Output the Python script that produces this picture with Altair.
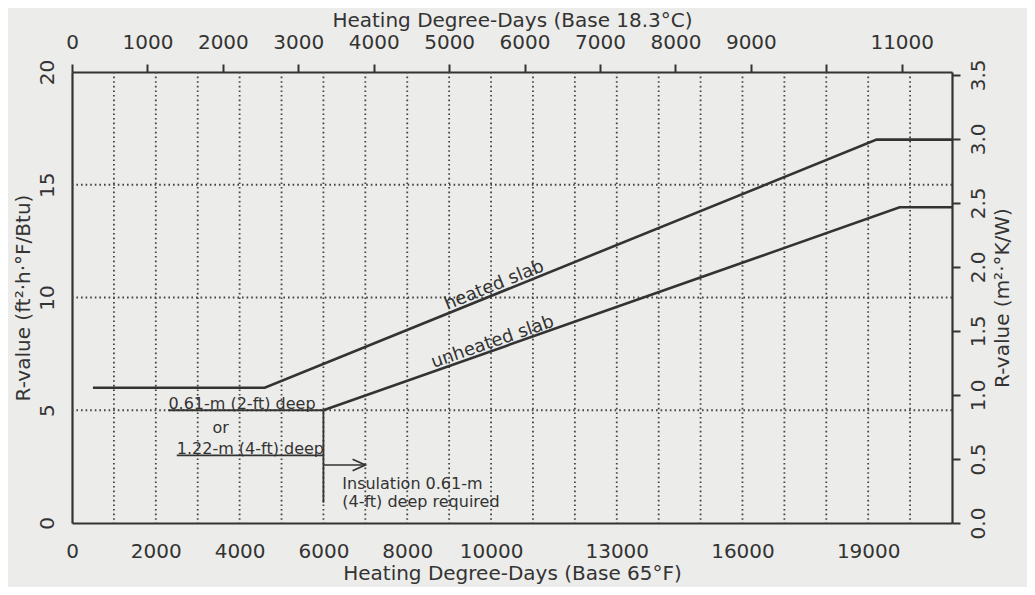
import altair as alt
import pandas as pd

# ---- data ----
heated_x = [500, 4600, 19200, 21000]
heated_r = [6, 6, 17, 17]
unheated_x = [6000, 19750, 21000]
unheated_r = [5, 14, 14]
deep2_x = [2300, 6000]
deep2_r = [5, 5]
deep4_x = [2500, 6000]
deep4_r = [3, 3]
req_x = [6000, 6000]
req_r = [5, 0.9]
arrow_x = [6000, 7000]
arrow_r = [2.57, 2.57]

grid_x = list(range(1000, 21000, 1000))
grid_r = [5, 10, 15]

bottom_ticks = [0, 2000, 4000, 6000, 8000, 10000, 13000, 16000, 19000]
top_ticks = list(range(0, 12000, 1000))
left_ticks = [0, 5, 10, 15, 20]
right_ticks = [0.0, 0.5, 1.0, 1.5, 2.0, 2.5, 3.0, 3.5]

note_text = ["0.61-m (2-ft) deep", "1.22-m (4-ft) deep", "Insulation 0.61-m", "(4-ft) deep required"]
note_x = [2300, 2500, 6450, 6450]
note_r = [5.0, 3.0, 1.46, 0.67]
or_text = ["or"]
or_x = [3550]
or_r = [4.0]
slant_text = ["heated slab", "unheated slab"]
slant_x = [10150, 10100]
slant_r = [10.2, 7.68]
slant_angle = [338, 341]

XMAX = 21000
YMAX = 20
F_PER_C = 1.8
SI_FACTOR = 5.678

FONT = "DejaVu Sans"
INK = "#333333"

# ---- tables ----
rows = []
for name, xs, rs, w in [
    ("heated", heated_x, heated_r, 2.6),
    ("unheated", unheated_x, unheated_r, 2.6),
    ("deep2", deep2_x, deep2_r, 1.8),
    ("deep4", deep4_x, deep4_r, 1.8),
    ("req", req_x, req_r, 1.8),
    ("arrow", arrow_x, arrow_r, 1.6),
]:
    for i, (a, b) in enumerate(zip(xs, rs)):
        rows.append({"seg": name, "x": a, "r": b, "w": w, "i": i})
lines_df = pd.DataFrame(rows)
gx_df = pd.DataFrame({"x": grid_x})
gy_df = pd.DataFrame({"r": grid_r})
notes_df = pd.DataFrame({"x": note_x, "r": note_r, "t": note_text})
or_df = pd.DataFrame({"x": or_x, "r": or_r, "t": or_text})
slant_df = pd.DataFrame({"x": slant_x, "r": slant_r, "t": slant_text, "a": slant_angle})
head_df = pd.DataFrame({"x": [arrow_x[-1]], "r": [arrow_r[-1]]})
right_df = pd.DataFrame({"si": right_ticks})
top_df = pd.DataFrame({"c": top_ticks})

xscale = alt.Scale(domain=[0, XMAX], nice=False, zero=False)
yscale = alt.Scale(domain=[0, YMAX], nice=False, zero=False)

xaxis = alt.Axis(
    values=bottom_ticks, format="d", ticks=False, tickSize=0, grid=False,
    labelPadding=18, labelFontSize=20, labelFont=FONT, labelColor=INK,
    title="Heating Degree-Days (Base 65°F)", titleFontSize=20, titleFont=FONT,
    titleFontWeight="normal", titleColor=INK, titlePadding=2,
    domainColor=INK, domainWidth=2.2, labelFlush=False,
)
yaxis = alt.Axis(
    values=left_ticks, format="d", ticks=False, tickSize=0, grid=False,
    labelAngle=270, labelAlign="center", labelBaseline="bottom", labelPadding=15,
    labelFontSize=20, labelFont=FONT, labelColor=INK,
    title="R-value  (ft²·h·°F/Btu)", titleFontSize=20, titleFont=FONT,
    titleFontWeight="normal", titleColor=INK, titlePadding=4,
    domainColor=INK, domainWidth=2.2, labelFlush=False,
)

X = alt.X("x:Q", scale=xscale, axis=xaxis)
Y = alt.Y("r:Q", scale=yscale, axis=yaxis)

gridv = alt.Chart(gx_df).mark_rule(color="#444444", strokeWidth=1.8, strokeDash=[1.6, 3.0]).encode(x=X)
gridh = alt.Chart(gy_df).mark_rule(color="#444444", strokeWidth=1.8, strokeDash=[1.6, 3.0]).encode(y=Y)

lines = alt.Chart(lines_df).mark_line(color=INK, strokeCap="butt").encode(
    x=X, y=Y, detail="seg:N", order="i:Q",
    strokeWidth=alt.StrokeWidth("w:Q", scale=None, legend=None),
)

head = alt.Chart(head_df).mark_point(
    shape="M -1 -0.45 L 0 0 L -1 0.45", filled=False, size=650,
    strokeWidth=1.7, color=INK, opacity=1,
).encode(x=X, y=Y)

notes = alt.Chart(notes_df).mark_text(
    align="left", baseline="alphabetic", dy=-1, font=FONT, fontSize=16, color=INK
).encode(x=X, y=Y, text="t:N")

ortext = alt.Chart(or_df).mark_text(
    align="center", baseline="alphabetic", font=FONT, fontSize=16, color=INK
).encode(x=X, y=Y, text="t:N")

slant = alt.Chart(slant_df).mark_text(
    align="center", baseline="alphabetic", dy=-3, font=FONT, fontSize=18, color=INK
).encode(x=X, y=Y, text="t:N", angle=alt.Angle("a:Q", scale=None))

main = alt.layer(gridv, gridh, lines, head, notes, ortext, slant)

right = alt.Chart(right_df).mark_tick(opacity=0).encode(
    y=alt.Y(
        "si:Q",
        scale=alt.Scale(domain=[0, YMAX / SI_FACTOR], nice=False, zero=False),
        axis=alt.Axis(
            orient="right", values=right_ticks, format=".1f", grid=False,
            tickSize=8, tickWidth=2, tickColor=INK,
            labelAngle=270, labelAlign="center", labelBaseline="top", labelPadding=8,
            labelFontSize=20, labelFont=FONT, labelColor=INK, labelFlush=False,
            title="R-value  (m²·°K/W)", titleAngle=270, titleBaseline="top",
            titleFontSize=20, titleFont=FONT, titleFontWeight="normal",
            titleColor=INK, titlePadding=4,
            domainColor=INK, domainWidth=2.2,
        ),
    )
)

top = alt.Chart(top_df).mark_tick(opacity=0).encode(
    x=alt.X(
        "c:Q",
        scale=alt.Scale(domain=[0, XMAX / F_PER_C], nice=False, zero=False),
        axis=alt.Axis(
            orient="top", values=top_ticks, format="d", grid=False,
            labelExpr="datum.value == 10000 ? '' : datum.label",
            tickSize=8, tickWidth=2, tickColor=INK,
            labelPadding=12, labelFontSize=20, labelFont=FONT, labelColor=INK,
            labelFlush=False,
            title="Heating Degree-Days (Base 18.3°C)", titleFontSize=20, titleFont=FONT,
            titleFontWeight="normal", titleColor=INK, titlePadding=2,
            domainColor=INK, domainWidth=2.2,
        ),
    )
)

chart = (
    alt.layer(main, right, top)
    .resolve_scale(x="independent", y="independent")
    .properties(
        width=880, height=451,
        autosize=alt.AutoSizeParams(type="none"),
        padding={"left": 64, "top": 64, "right": 75, "bottom": 64},
        background="#ececea",
    )
    .configure_view(stroke=None)
)

chart.save("out.html", embed_options={"renderer": "svg", "actions": False})
